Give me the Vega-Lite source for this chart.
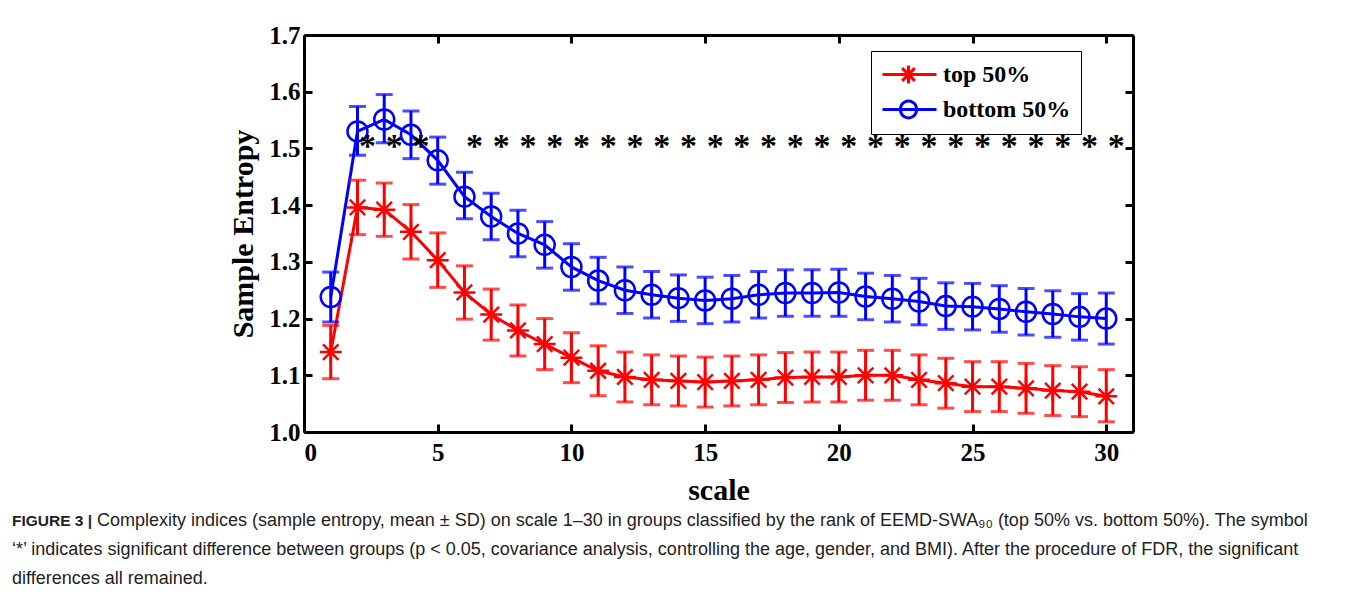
{
  "$schema": "https://vega.github.io/schema/vega-lite/v6.json",
  "width": 829,
  "height": 397,
  "autosize": {"type": "none"},
  "padding": {"left": 304, "top": 35, "right": 227, "bottom": 181},
  "background": "white",
  "datasets": {
    "series": [
      {"scale": 1, "group": "top 50%", "mean": 1.141, "lower": 1.094, "upper": 1.188},
      {"scale": 2, "group": "top 50%", "mean": 1.396, "lower": 1.348, "upper": 1.444},
      {"scale": 3, "group": "top 50%", "mean": 1.392, "lower": 1.345, "upper": 1.439},
      {"scale": 4, "group": "top 50%", "mean": 1.353, "lower": 1.305, "upper": 1.401},
      {"scale": 5, "group": "top 50%", "mean": 1.303, "lower": 1.255, "upper": 1.351},
      {"scale": 6, "group": "top 50%", "mean": 1.246, "lower": 1.199, "upper": 1.293},
      {"scale": 7, "group": "top 50%", "mean": 1.207, "lower": 1.162, "upper": 1.252},
      {"scale": 8, "group": "top 50%", "mean": 1.179, "lower": 1.134, "upper": 1.224},
      {"scale": 9, "group": "top 50%", "mean": 1.155, "lower": 1.110, "upper": 1.200},
      {"scale": 10, "group": "top 50%", "mean": 1.131, "lower": 1.087, "upper": 1.175},
      {"scale": 11, "group": "top 50%", "mean": 1.108, "lower": 1.064, "upper": 1.152},
      {"scale": 12, "group": "top 50%", "mean": 1.097, "lower": 1.053, "upper": 1.141},
      {"scale": 13, "group": "top 50%", "mean": 1.092, "lower": 1.048, "upper": 1.136},
      {"scale": 14, "group": "top 50%", "mean": 1.090, "lower": 1.046, "upper": 1.134},
      {"scale": 15, "group": "top 50%", "mean": 1.088, "lower": 1.044, "upper": 1.132},
      {"scale": 16, "group": "top 50%", "mean": 1.090, "lower": 1.046, "upper": 1.134},
      {"scale": 17, "group": "top 50%", "mean": 1.092, "lower": 1.048, "upper": 1.136},
      {"scale": 18, "group": "top 50%", "mean": 1.096, "lower": 1.052, "upper": 1.140},
      {"scale": 19, "group": "top 50%", "mean": 1.097, "lower": 1.053, "upper": 1.141},
      {"scale": 20, "group": "top 50%", "mean": 1.097, "lower": 1.053, "upper": 1.141},
      {"scale": 21, "group": "top 50%", "mean": 1.100, "lower": 1.056, "upper": 1.144},
      {"scale": 22, "group": "top 50%", "mean": 1.100, "lower": 1.056, "upper": 1.144},
      {"scale": 23, "group": "top 50%", "mean": 1.092, "lower": 1.048, "upper": 1.136},
      {"scale": 24, "group": "top 50%", "mean": 1.086, "lower": 1.042, "upper": 1.130},
      {"scale": 25, "group": "top 50%", "mean": 1.080, "lower": 1.036, "upper": 1.124},
      {"scale": 26, "group": "top 50%", "mean": 1.080, "lower": 1.036, "upper": 1.124},
      {"scale": 27, "group": "top 50%", "mean": 1.077, "lower": 1.033, "upper": 1.121},
      {"scale": 28, "group": "top 50%", "mean": 1.073, "lower": 1.029, "upper": 1.117},
      {"scale": 29, "group": "top 50%", "mean": 1.071, "lower": 1.027, "upper": 1.115},
      {"scale": 30, "group": "top 50%", "mean": 1.063, "lower": 1.018, "upper": 1.110},
      {"scale": 1, "group": "bottom 50%", "mean": 1.238, "lower": 1.194, "upper": 1.282},
      {"scale": 2, "group": "bottom 50%", "mean": 1.530, "lower": 1.488, "upper": 1.574},
      {"scale": 3, "group": "bottom 50%", "mean": 1.551, "lower": 1.510, "upper": 1.595},
      {"scale": 4, "group": "bottom 50%", "mean": 1.524, "lower": 1.482, "upper": 1.566},
      {"scale": 5, "group": "bottom 50%", "mean": 1.479, "lower": 1.437, "upper": 1.520},
      {"scale": 6, "group": "bottom 50%", "mean": 1.415, "lower": 1.376, "upper": 1.458},
      {"scale": 7, "group": "bottom 50%", "mean": 1.380, "lower": 1.339, "upper": 1.421},
      {"scale": 8, "group": "bottom 50%", "mean": 1.350, "lower": 1.309, "upper": 1.391},
      {"scale": 9, "group": "bottom 50%", "mean": 1.330, "lower": 1.289, "upper": 1.371},
      {"scale": 10, "group": "bottom 50%", "mean": 1.291, "lower": 1.250, "upper": 1.332},
      {"scale": 11, "group": "bottom 50%", "mean": 1.267, "lower": 1.226, "upper": 1.308},
      {"scale": 12, "group": "bottom 50%", "mean": 1.250, "lower": 1.209, "upper": 1.291},
      {"scale": 13, "group": "bottom 50%", "mean": 1.242, "lower": 1.201, "upper": 1.283},
      {"scale": 14, "group": "bottom 50%", "mean": 1.236, "lower": 1.195, "upper": 1.277},
      {"scale": 15, "group": "bottom 50%", "mean": 1.232, "lower": 1.191, "upper": 1.273},
      {"scale": 16, "group": "bottom 50%", "mean": 1.235, "lower": 1.194, "upper": 1.276},
      {"scale": 17, "group": "bottom 50%", "mean": 1.242, "lower": 1.201, "upper": 1.283},
      {"scale": 18, "group": "bottom 50%", "mean": 1.245, "lower": 1.204, "upper": 1.286},
      {"scale": 19, "group": "bottom 50%", "mean": 1.245, "lower": 1.204, "upper": 1.286},
      {"scale": 20, "group": "bottom 50%", "mean": 1.246, "lower": 1.204, "upper": 1.287},
      {"scale": 21, "group": "bottom 50%", "mean": 1.239, "lower": 1.198, "upper": 1.280},
      {"scale": 22, "group": "bottom 50%", "mean": 1.235, "lower": 1.194, "upper": 1.276},
      {"scale": 23, "group": "bottom 50%", "mean": 1.230, "lower": 1.189, "upper": 1.271},
      {"scale": 24, "group": "bottom 50%", "mean": 1.222, "lower": 1.181, "upper": 1.263},
      {"scale": 25, "group": "bottom 50%", "mean": 1.221, "lower": 1.180, "upper": 1.262},
      {"scale": 26, "group": "bottom 50%", "mean": 1.217, "lower": 1.176, "upper": 1.258},
      {"scale": 27, "group": "bottom 50%", "mean": 1.212, "lower": 1.171, "upper": 1.253},
      {"scale": 28, "group": "bottom 50%", "mean": 1.208, "lower": 1.167, "upper": 1.249},
      {"scale": 29, "group": "bottom 50%", "mean": 1.203, "lower": 1.162, "upper": 1.244},
      {"scale": 30, "group": "bottom 50%", "mean": 1.200, "lower": 1.155, "upper": 1.245}
    ],
    "stars": [
      {"scale": 2, "level": 1.51}, {"scale": 3, "level": 1.51}, {"scale": 4, "level": 1.51},
      {"scale": 6, "level": 1.51}, {"scale": 7, "level": 1.51}, {"scale": 8, "level": 1.51},
      {"scale": 9, "level": 1.51}, {"scale": 10, "level": 1.51}, {"scale": 11, "level": 1.51},
      {"scale": 12, "level": 1.51}, {"scale": 13, "level": 1.51}, {"scale": 14, "level": 1.51},
      {"scale": 15, "level": 1.51}, {"scale": 16, "level": 1.51}, {"scale": 17, "level": 1.51},
      {"scale": 18, "level": 1.51}, {"scale": 19, "level": 1.51}, {"scale": 20, "level": 1.51},
      {"scale": 21, "level": 1.51}, {"scale": 22, "level": 1.51}, {"scale": 23, "level": 1.51},
      {"scale": 24, "level": 1.51}, {"scale": 25, "level": 1.51}, {"scale": 26, "level": 1.51},
      {"scale": 27, "level": 1.51}, {"scale": 28, "level": 1.51}, {"scale": 29, "level": 1.51},
      {"scale": 30, "level": 1.51}
    ]
  },
  "title": {
    "text": "FIGURE 3 |",
    "subtitle": [
      "\u200b\u00a0\u00a0\u00a0\u00a0\u00a0\u00a0\u00a0\u00a0\u00a0\u00a0\u00a0\u00a0\u00a0\u00a0\u00a0\u00a0\u00a0Complexity indices (sample entropy, mean ± SD) on scale 1–30 in groups classified by the rank of EEMD-SWA₉₀ (top 50% vs. bottom 50%). The symbol",
      "‘*’ indicates significant difference between groups (p < 0.05, covariance analysis, controlling the age, gender, and BMI). After the procedure of FDR, the significant",
      "differences all remained."
    ],
    "orient": "bottom",
    "anchor": "start",
    "frame": "group",
    "dx": -292,
    "offset": 9,
    "font": "Liberation Sans",
    "fontSize": 15.5,
    "fontWeight": "bold",
    "color": "#222222",
    "subtitleFont": "Liberation Sans",
    "subtitleFontSize": 18,
    "subtitleFontWeight": "normal",
    "subtitleColor": "#222222",
    "subtitleLineHeight": 29,
    "subtitlePadding": -18
  },
  "config": {
    "view": {"stroke": null},
    "axis": {
      "grid": false,
      "domainColor": "black",
      "domainWidth": 3,
      "tickColor": "black",
      "tickWidth": 3,
      "tickSize": -8,
      "labelFont": "Liberation Serif",
      "labelFontWeight": "bold",
      "labelFontSize": 25,
      "labelColor": "black",
      "titleFont": "Liberation Serif",
      "titleFontWeight": "bold",
      "titleFontSize": 30,
      "titleColor": "black"
    }
  },
  "layer": [
    {
      "data": {"name": "series"},
      "mark": {"type": "line", "strokeWidth": 3},
      "encoding": {
        "x": {
          "field": "scale", "type": "quantitative",
          "scale": {"domain": [0, 31], "nice": false, "zero": false},
          "axis": {"values": [0, 5, 10, 15, 20, 25, 30], "title": "scale", "labelPadding": 16, "titlePadding": 10}
        },
        "y": {
          "field": "mean", "type": "quantitative",
          "scale": {"domain": [1.0, 1.7], "nice": false, "zero": false},
          "axis": {"values": [1.0, 1.1, 1.2, 1.3, 1.4, 1.5, 1.6, 1.7], "format": ".1f", "title": "Sample Entropy", "labelPadding": 12, "titlePadding": 10}
        },
        "color": {
          "field": "group", "type": "nominal",
          "scale": {"domain": ["top 50%", "bottom 50%"], "range": ["#ff0000", "#0000ff"]},
          "legend": {
            "orient": "none",
            "legendX": 567,
            "legendY": 16,
            "title": null,
            "strokeColor": "black",
            "fillColor": "white",
            "padding": 10,
            "symbolSize": 576,
            "symbolStrokeWidth": 3,
            "symbolFillColor": "transparent",
            "labelFont": "Liberation Serif",
            "labelFontWeight": "bold",
            "labelFontSize": 24,
            "labelColor": "black",
            "labelOffset": 35,
            "rowPadding": 5,
            "encode": {
              "symbols": {
                "update": {
                  "shape": {"signal": "datum.value === 'top 50%' ? 'M-1,0L3.5,0M1.167,-0.75L1.167,0.75M0.637,-0.53L1.697,0.53M0.637,0.53L1.697,-0.53' : 'M-1,0L3.5,0M0.5,0A0.667,0.667 0 1,0 1.833,0A0.667,0.667 0 1,0 0.5,0'"},
                  "fill": {"value": "transparent"},
                  "fillOpacity": {"value": 0},
                  "strokeWidth": {"value": 3}
                }
              }
            }
          }
        }
      }
    },
    {
      "data": {"name": "series"},
      "mark": {"type": "errorbar", "orient": "vertical", "ticks": true, "size": 17, "thickness": 3},
      "encoding": {
        "x": {"field": "scale", "type": "quantitative", "axis": null},
        "y": {"field": "lower", "type": "quantitative", "axis": null},
        "y2": {"field": "upper"},
        "color": {"field": "group", "type": "nominal", "legend": null}
      }
    },
    {
      "data": {"name": "series"},
      "transform": [{"filter": "datum.group === 'top 50%'"}],
      "mark": {"type": "point", "shape": "M-1,0L1,0M0,-1L0,1M-0.707,-0.707L0.707,0.707M-0.707,0.707L0.707,-0.707", "size": 480, "filled": false, "strokeWidth": 2.5, "color": "#ff0000", "opacity": 1},
      "encoding": {
        "x": {"field": "scale", "type": "quantitative", "axis": null},
        "y": {"field": "mean", "type": "quantitative", "axis": null}
      }
    },
    {
      "data": {"name": "series"},
      "transform": [{"filter": "datum.group === 'bottom 50%'"}],
      "mark": {"type": "point", "shape": "circle", "size": 400, "filled": false, "strokeWidth": 2.5, "color": "#0000ff", "opacity": 1},
      "encoding": {
        "x": {"field": "scale", "type": "quantitative", "axis": null},
        "y": {"field": "mean", "type": "quantitative", "axis": null}
      }
    },
    {
      "data": {"name": "stars"},
      "mark": {"type": "text", "text": "*", "font": "Liberation Serif", "fontWeight": "bold", "fontSize": 34, "color": "black", "dx": 10, "dy": 14, "baseline": "alphabetic", "align": "center"},
      "encoding": {
        "x": {"field": "scale", "type": "quantitative", "axis": {"orient": "top", "labels": false, "title": null, "values": [0, 5, 10, 15, 20, 25, 30]}},
        "y": {"field": "level", "type": "quantitative", "axis": {"orient": "right", "labels": false, "title": null, "values": [1.0, 1.1, 1.2, 1.3, 1.4, 1.5, 1.6, 1.7]}}
      }
    }
  ],
  "resolve": {"axis": {"x": "independent", "y": "independent"}}
}
